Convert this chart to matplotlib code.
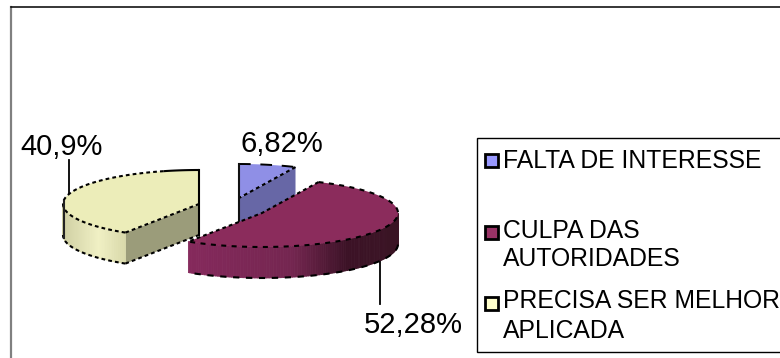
import numpy as np
import matplotlib
matplotlib.use("Agg")
import matplotlib.pyplot as plt
from matplotlib.collections import PolyCollection
from matplotlib.patches import Polygon, Rectangle

plt.rcParams['font.family'] = ['Liberation Sans', 'DejaVu Sans']

# Survey shares, in percent, clockwise from twelve o'clock
categories = ["FALTA DE INTERESSE", "CULPA DAS\nAUTORIDADES", "PRECISA SER MELHOR\nAPLICADA"]
shares = [6.82, 52.28, 40.9]
value_labels = ["6,82%", "52,28%", "40,9%"]

# Slice appearance: exploded centre, top colour, cut-face colour
centres = [(239, 198), (262, 213), (199, 204)]
top_colours = ["#8f8fe6", "#8b2c5c", "#ecedb9"]
face_colours = ["#6767a6", "#5a1c3c", "#9b9c7a"]
legend_colours = ["#9999ff", "#993366", "#ffffcc"]

RX, RY, DEPTH = 136, 34, 31
DOTS = (0, (1.8, 1.5))

fig = plt.figure(figsize=(7.8, 3.58), dpi=100)
ax = fig.add_axes([0, 0, 1, 1])
ax.set_xlim(0, 780)
ax.set_ylim(358, 0)
ax.axis("off")


def rim(centre, deg, drop=0):
    """Screen position of a rim point, with deg measured clockwise from north."""
    t = np.radians(deg)
    return centre[0] + RX * np.sin(t), centre[1] - RY * np.cos(t) + drop


def hex_rgb(c):
    return np.array(matplotlib.colors.to_rgb(c))


def wall(centre, a0, a1, stops, colours):
    """Outer wall of a slice as thin strips shaded across the arc."""
    edges = np.arange(a0, a1 + 1.0, 1.0)
    edges[-1] = a1
    polys, cols = [], []
    rgb = np.array([hex_rgb(c) for c in colours])
    for s, e in zip(edges[:-1], edges[1:]):
        polys.append([rim(centre, s), rim(centre, e), rim(centre, e, DEPTH), rim(centre, s, DEPTH)])
        x = (rim(centre, s)[0] + rim(centre, e)[0]) / 2
        cols.append([np.interp(x, stops, rgb[:, i]) for i in range(3)])
    ax.add_collection(PolyCollection(polys, facecolors=cols, edgecolors=cols, linewidths=0.6, zorder=2))


def arc(centre, a0, a1, drop=0, **kw):
    d = np.linspace(a0, a1, 80)
    x, y = rim(centre, d, drop)
    ax.plot(x, y, color="black", zorder=4, solid_capstyle="butt", **kw)


starts = 360 * np.cumsum([0] + shares[:-1]) / 100
ends = 360 * np.cumsum(shares) / 100
ends[-1] = 360

# Outer chart frame and legend box
ax.plot([11, 11], [7, 358], color="#808080", lw=1.6, zorder=1)
ax.plot([11, 780], [7, 7], color="black", lw=1.1, zorder=1)
ax.add_patch(Rectangle((476.5, 137.5), 320, 214.5, fc="white", ec="black", lw=1, zorder=1))

# Yellow slice: furthest left, drawn first
c = centres[2]
a0, a1 = starts[2], ends[2]
p = rim(c, a0)
ax.add_patch(Polygon([c, p, rim(c, a0, DEPTH), (c[0], c[1] + DEPTH)], fc=face_colours[2], ec="none", zorder=2))
wall(c, a0, 270, [c[0] - RX, c[0] - RX + 35, p[0]], ["#d0d0a4", "#f0f0c4", "#d8d8aa"])
d = np.linspace(a0, a1, 100)
ax.add_patch(Polygon(list(zip(*rim(c, d))) + [c], fc=top_colours[2], ec="none", zorder=3))
arc(c, a0, 345, lw=1.5, linestyle=DOTS)
arc(c, 345, a1, lw=1.5)
arc(c, a0, 270, drop=DEPTH, lw=1.5, linestyle=DOTS)
ax.plot([p[0], c[0]], [p[1], c[1]], color="black", lw=1.5, ls=DOTS, zorder=4)
ax.plot([p[0], c[0]], [p[1] + DEPTH, c[1] + DEPTH], color="black", lw=1.5, ls=DOTS, zorder=4)
ax.plot([c[0], c[0]], [c[1] - RY, c[1] + DEPTH], color="black", lw=1.5, zorder=4)
ax.plot([c[0] - RX + 1] * 2, [c[1] - 3, c[1] + DEPTH + 3], color="#222222", lw=1.5, zorder=4)

# Blue slice, partly hidden behind the maroon one
c = centres[0]
a0, a1 = starts[0], ends[0]
p = rim(c, a1)
ax.add_patch(Polygon([c, p, rim(c, a1, DEPTH), (c[0], c[1] + DEPTH)], fc=face_colours[0], ec="none", zorder=2))
d = np.linspace(a0, a1, 40)
ax.add_patch(Polygon(list(zip(*rim(c, d))) + [c], fc=top_colours[0], ec="none", zorder=3))
arc(c, a0, a1, lw=1.4, linestyle=(0, (6, 5)))
ax.plot([p[0], c[0]], [p[1], c[1]], color="black", lw=1.5, ls=DOTS, zorder=4)
ax.plot([c[0], c[0]], [c[1] - RY, c[1] + DEPTH], color="#111111", lw=1.5, zorder=4)

# Maroon slice in front
c = centres[1]
a0, a1 = starts[1], ends[1]
wall(c, 90, a1, [rim(c, a1)[0], c[0] + 30, c[0] + 85, c[0] + RX], ["#85295c", "#742650", "#3c1226", "#3a1424"])
d = np.linspace(a0, a1, 120)
ax.add_patch(Polygon(list(zip(*rim(c, d))) + [c], fc=top_colours[1], ec="none", zorder=5))
x, y = rim(c, d)
ax.plot(x, y, color="black", lw=1.5, ls=(0, (2.4, 2.6)), zorder=6)
x, y = rim(c, d[d >= 90], DEPTH)
ax.plot(x, y, color="black", lw=1.5, ls=(0, (3.0, 3.2)), zorder=6)
s, e = rim(c, a0), rim(c, a1)
ax.plot([s[0], c[0], e[0]], [s[1], c[1], e[1]], color="black", lw=1.5, ls=DOTS, zorder=6)

# Value labels and their leader lines
FS_VALUE = 21
ax.text(20, 155, value_labels[2], fontsize=FS_VALUE, ha="left", va="baseline", color="black", zorder=7)
ax.text(240, 152, value_labels[0], fontsize=FS_VALUE, ha="left", va="baseline", color="black", zorder=7)
ax.text(364, 333, value_labels[1], fontsize=FS_VALUE, ha="left", va="baseline", color="black", zorder=7)
ax.plot([68.5, 68.5], [160, 194], color="black", lw=1.3, zorder=1)
ax.plot([379.5, 379.5], [260, 304], color="black", lw=1.3, zorder=1)

# Legend entries
FS_LEGEND = 17.8
swatch_y = [160, 232, 303]
text_y = [[168], [238, 266], [308, 338]]
for name, colour, sy, baselines in zip(categories, legend_colours, swatch_y, text_y):
    ax.add_patch(Rectangle((484.5, sy - 6.5), 13, 13, fc=colour, ec="black", lw=2, zorder=7))
    for line, by in zip(name.split("\n"), baselines):
        ax.text(503, by, line, fontsize=FS_LEGEND, ha="left", va="baseline", color="black", zorder=7)

fig.savefig("out.png", dpi=100, facecolor="white")
